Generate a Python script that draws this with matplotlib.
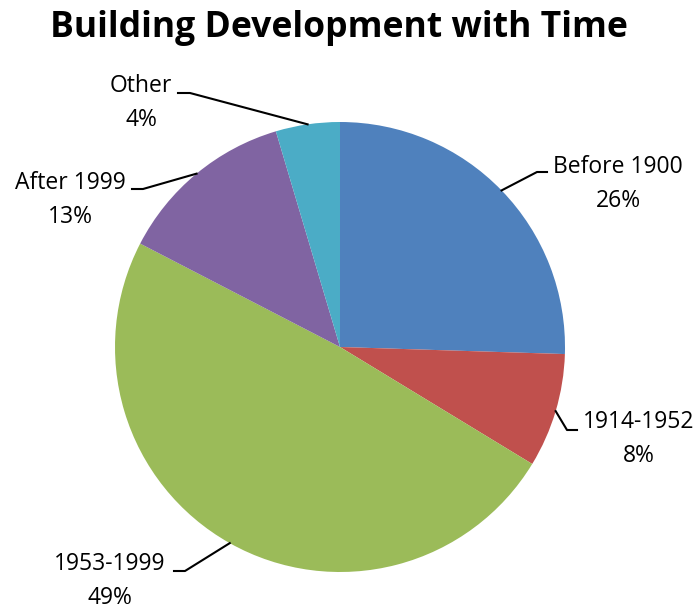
"""
@ Building Development with Time
@ pie chart
"""

import numpy as np
from matplotlib import pylab as plt

categories = ['Before 1900', '1914-1952', '1953-1999', 'After 1999', 'Other']
shares = [25.5, 8.2, 48.9, 12.8, 4.6]
pctLabels = [26, 8, 49, 13, 4]
colors = ['#4F81BD', '#C0504D', '#9BBB59', '#8064A2', '#4BACC6']

# label layout (pixel coords, y from top): text centre, elbow point, horizontal end
textPos = [(618, 184), (639, 439), (110, 581), (70, 200), (141, 103)]
elbow = [(537, 172), (567, 430), (185, 571), (143, 189), (190, 93)]
tail = [(547, 172), (577, 430), (174, 571), (132, 189), (178, 93)]

W, H = 700, 605
cx, cy, R = 340, 347, 225

plt.rcParams['font.family'] = ['Open Sans', 'DejaVu Sans']

fig = plt.figure(figsize=(W / 100, H / 100), dpi=100)
ax = fig.add_axes([0, 0, 1, 1])

# y axis is flipped below, so angles run the other way round
wedges, _ = ax.pie(shares, colors=colors, startangle=-90, counterclock=True,
                   center=(cx, cy), radius=R, frame=True,
                   wedgeprops=dict(linewidth=0))
ax.set_xlim(0, W)
ax.set_ylim(H, 0)
ax.axis('off')

for i, w in enumerate(wedges):
    mid = np.deg2rad((w.theta1 + w.theta2) / 2)
    ex = cx + R * np.cos(mid)
    ey = cy + R * np.sin(mid)
    ax.plot([ex, elbow[i][0], tail[i][0]], [ey, elbow[i][1], tail[i][1]],
            color='black', linewidth=1.5)
    ax.text(textPos[i][0], textPos[i][1], '%s\n%d%%' % (categories[i], pctLabels[i]),
            ha='center', va='center', fontsize=16.5, linespacing=1.52)

fig.text(0.484, 0.953, 'Building Development with Time', ha='center', va='center',
         fontsize=25.6, fontweight='bold')

plt.savefig('out.png', dpi=100)
